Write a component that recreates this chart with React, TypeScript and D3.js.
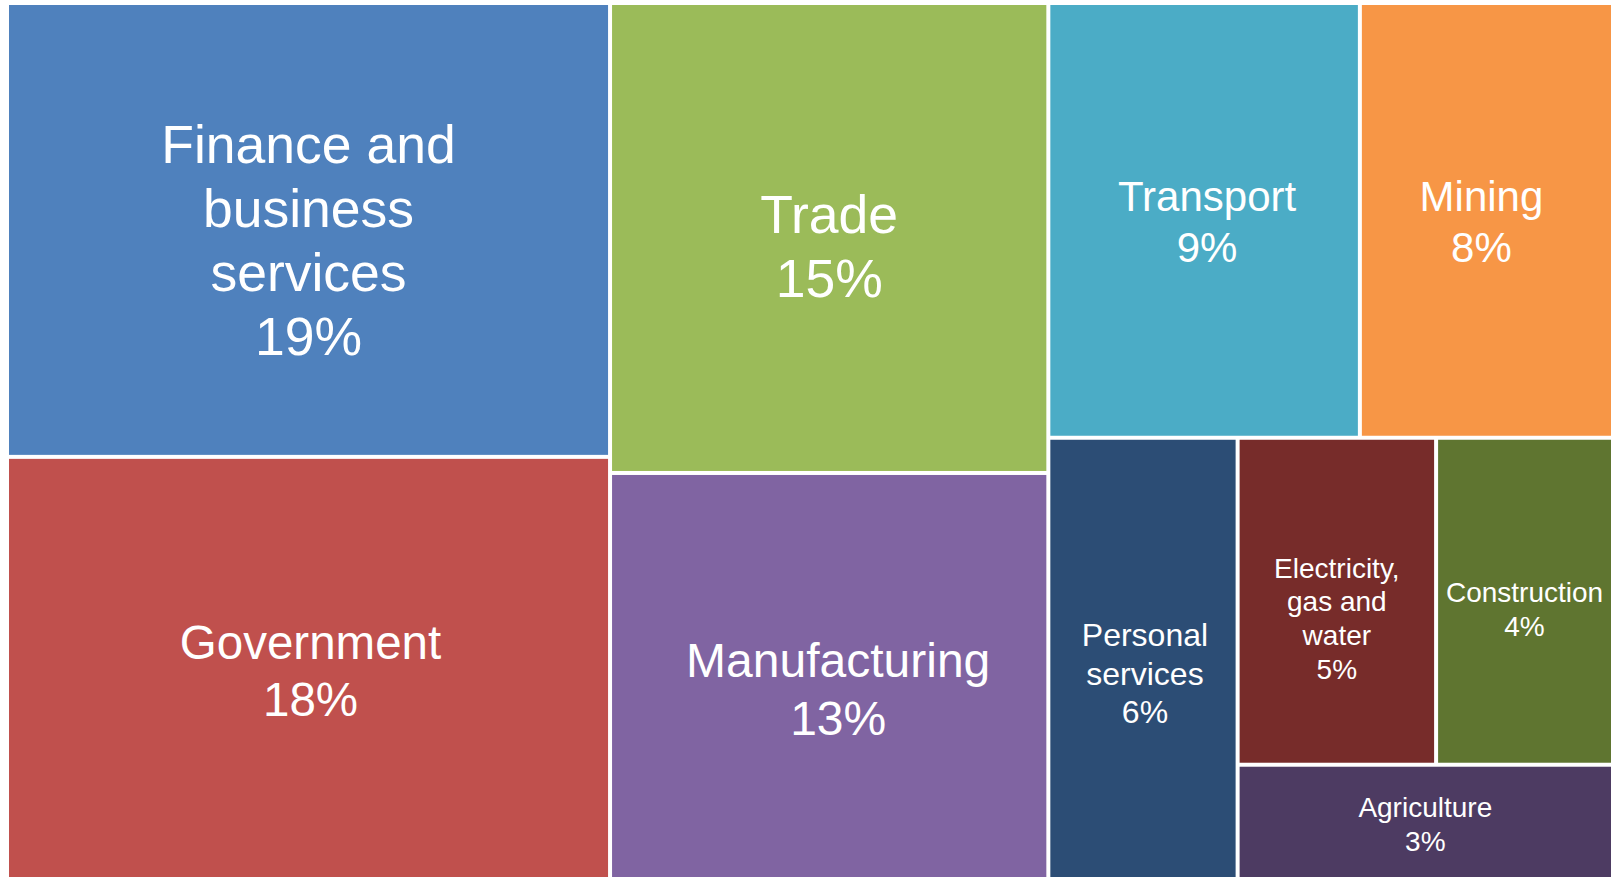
import * as d3 from "d3";

// sector shares and the percent labels shown
const sectors = [
  "Finance and business services",
  "Government",
  "Trade",
  "Manufacturing",
  "Transport",
  "Mining",
  "Personal services",
  "Electricity, gas and water",
  "Construction",
  "Agriculture",
];
const shares = [19.4, 18.3, 14.6, 12.8, 9.6, 7.8, 6.0, 4.6, 4.1, 3.2];
const pctLabels = ["19%", "18%", "15%", "13%", "9%", "8%", "6%", "5%", "4%", "3%"];
const colors = [
  "#4F81BD", "#C0504D", "#9BBB59", "#8064A2", "#4BACC6",
  "#F79646", "#2C4D75", "#772C2A", "#5F7530", "#4D3B62",
];
// how the cells are grouped into rows by the tiling
const rowSizes = [2, 2, 2, 1, 2, 1];

// wrapped label text
const labelLines: Record<string, string[]> = {
  "Finance and business services": ["Finance and", "business", "services"],
  "Personal services": ["Personal", "services"],
  "Electricity, gas and water": ["Electricity,", "gas and", "water"],
};

// label font size + small nudges (Excel auto-fit look)
const labelStyle: Record<string, { size: number; dx: number; dy: number }> = {
  "Finance and business services": { size: 53.5, dx: 0, dy: 10 },
  Government: { size: 47.5, dx: 2, dy: 0 },
  Trade: { size: 53.5, dx: 0, dy: 8 },
  Manufacturing: { size: 48, dx: 9, dy: 10 },
  Transport: { size: 42, dx: 3, dy: 1 },
  Mining: { size: 42, dx: -5, dy: 1 },
  "Personal services": { size: 32, dx: 2, dy: 12 },
  "Electricity, gas and water": { size: 28, dx: 0, dy: 17 },
  Construction: { size: 28, dx: 0, dy: 8 },
  Agriculture: { size: 28, dx: 0, dy: -1 },
};

const W = 1617;
const H = 900;

interface Leaf { name: string; value: number; color: string; pct: string; }

function rowTile(parent: any, x0: number, y0: number, x1: number, y1: number) {
  const nodes = parent.children;
  let value = parent.value;
  let i = 0;
  for (const size of rowSizes) {
    const kids = nodes.slice(i, i + size);
    i += size;
    const sum = d3.sum(kids, (d: any) => d.value);
    const row: any = { value: sum, children: kids };
    const dx = x1 - x0, dy = y1 - y0;
    if (dx < dy) {
      const ny = y0 + (dy * sum) / value;
      d3.treemapDice(row, x0, y0, x1, ny);
      y0 = ny;
    } else {
      const nx = x0 + (dx * sum) / value;
      d3.treemapSlice(row, x0, y0, nx, y1);
      x0 = nx;
    }
    value -= sum;
  }
}

export default function App() {
  const leaves: Leaf[] = sectors.map((name, i) => ({
    name, value: shares[i], color: colors[i], pct: pctLabels[i],
  }));

  const root = d3
    .hierarchy<any>({ name: "root", children: leaves })
    .sum((d: any) => d.value ?? 0);

  d3.treemap<any>()
    .tile(rowTile as any)
    .size([1602, 878])
    .paddingInner(4)
    .round(false)(root);

  const cells = root.leaves() as d3.HierarchyRectangularNode<any>[];

  return (
    <div style={{ position: "fixed", left: 0, top: 0, right: 0, bottom: 0, overflow: "hidden", background: "#fff" }}>
      <svg width={W} height={H} style={{ display: "block" }}>
        <g transform="translate(9,5)">
          {cells.map((c) => {
            const d = c.data as Leaf;
            const st = labelStyle[d.name];
            const lines = [...(labelLines[d.name] ?? [d.name]), d.pct];
            const fs = st.size;
            const lh = fs * 1.2;
            const cx = (c.x0 + c.x1) / 2 + st.dx;
            const cy = (c.y0 + c.y1) / 2 + st.dy;
            const first = cy + fs * 0.358 - ((lines.length - 1) * lh) / 2;
            return (
              <g key={d.name}>
                <rect x={c.x0} y={c.y0} width={c.x1 - c.x0} height={c.y1 - c.y0} fill={d.color} />
                <text
                  textAnchor="middle"
                  fill="#fff"
                  fontSize={fs}
                  style={{ fontFamily: "Arial, 'Liberation Sans', sans-serif" }}
                >
                  {lines.map((ln, k) => (
                    <tspan key={k} x={cx} y={first + k * lh}>{ln}</tspan>
                  ))}
                </text>
              </g>
            );
          })}
        </g>
      </svg>
    </div>
  );
}
